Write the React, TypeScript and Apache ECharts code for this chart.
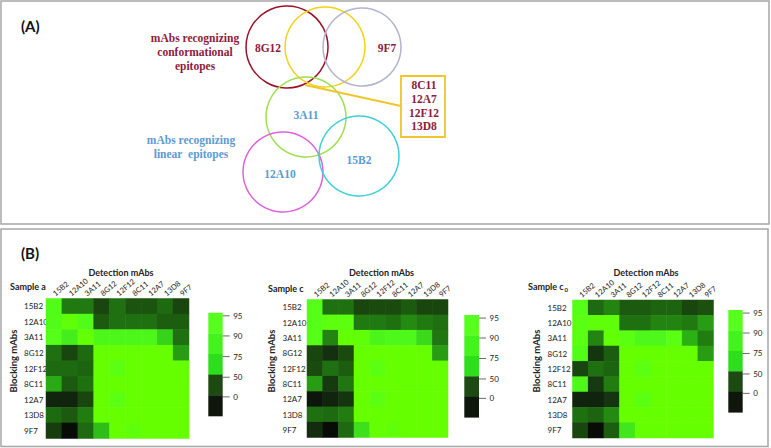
import React, { useEffect, useRef } from "react";
import * as echarts from "echarts";

// ---- data ----
const detectionMabs = ["15B2", "12A10", "3A11", "8G12", "12F12", "8C11", "12A7", "13D8", "9F7"];
const blockingMabs = ["15B2", "12A10", "3A11", "8G12", "12F12", "8C11", "12A7", "13D8", "9F7"];

// rows = blocking mAbs, columns = detection mAbs (estimated % signal)
const sampleA = [
  [88, 45, 45, 28, 42, 33, 33, 40, 28],
  [88, 97, 88, 35, 42, 42, 42, 36, 36],
  [90, 80, 98, 85, 85, 85, 85, 72, 42],
  [42, 28, 40, 100, 100, 100, 100, 100, 56],
  [40, 40, 38, 100, 93, 100, 100, 100, 100],
  [60, 35, 42, 100, 100, 100, 100, 100, 100],
  [15, 15, 28, 100, 93, 100, 100, 100, 100],
  [40, 35, 46, 100, 100, 100, 100, 100, 100],
  [25, 2, 40, 66, 100, 96, 100, 100, 100],
];
const sampleC = [
  [90, 42, 42, 28, 30, 30, 35, 28, 28],
  [90, 94, 94, 45, 45, 42, 50, 45, 42],
  [90, 48, 98, 97, 84, 86, 86, 74, 44],
  [28, 20, 30, 100, 100, 100, 100, 100, 56],
  [30, 42, 36, 100, 93, 100, 100, 100, 100],
  [56, 24, 44, 100, 100, 100, 100, 100, 100],
  [8, 15, 22, 100, 93, 100, 100, 100, 100],
  [42, 40, 46, 100, 100, 100, 100, 100, 100],
  [18, 2, 40, 76, 100, 97, 100, 100, 100],
];
const sampleC0 = [
  [90, 40, 48, 35, 35, 38, 38, 28, 32],
  [93, 96, 96, 42, 42, 48, 48, 45, 56],
  [93, 48, 98, 93, 86, 86, 93, 62, 46],
  [88, 22, 36, 100, 100, 100, 100, 100, 56],
  [28, 42, 38, 100, 93, 100, 100, 100, 100],
  [86, 24, 46, 100, 100, 100, 100, 100, 100],
  [14, 14, 22, 100, 93, 100, 100, 100, 100],
  [42, 38, 50, 100, 100, 100, 100, 100, 100],
  [28, 2, 36, 78, 100, 100, 100, 100, 100],
];

const colorbarTicks = ["95", "90", "75", "50", "0"];
const colorbarColors = ["#58ff1e", "#46f21e", "#30dc1e", "#1c4a12", "#0f170d"];
const heatColors = ["#050805", "#0e1a0b", "#143010", "#1a4a0e", "#1e6a10", "#248a12", "#2aaa14", "#33cc1a", "#44ee1c", "#55ff18", "#66ff00"];

const conformationalText = ["mAbs recognizing", "conformational", "epitopes"];
const linearText = ["mAbs recognizing", "linear  epitopes"];
const sharedMabs = ["8C11", "12A7", "12F12", "13D8"];

const MAROON = "#8b1c3c";
const BLUE = "#5b9bd5";
const SANS = "Lato, 'Liberation Sans', sans-serif";
const SERIF = "'Liberation Serif', 'DejaVu Serif', serif";

function toHeat(m: number[][]) {
  const out: number[][] = [];
  m.forEach((row, r) => row.forEach((v, c) => out.push([c, r, v])));
  return out;
}

export default function App() {
  const ref = useRef<HTMLDivElement>(null);
  useEffect(() => {
    if (!ref.current) return;
    const chart = echarts.init(ref.current, undefined, { renderer: "svg" });

    const panels = [
      { data: sampleA, left: 46, top: 298.5, width: 143, height: 140, margin: 22, title: "Sample a", tx: 10, ty: 286, bx: 13, dx: 121, cb: { x: 208.3, y: 312.7, w: 14.4, h: 103.3 } },
      { data: sampleC, left: 307, top: 299.5, width: 141, height: 138, margin: 24.5, title: "Sample c", tx: 268, ty: 288, bx: 271, dx: 381.5, cb: { x: 464.3, y: 315, w: 14.7, h: 102.3 } },
      { data: sampleC0, left: 572.5, top: 300, width: 141, height: 138, margin: 25, title: "Sample c", tx: 528, ty: 286, bx: 536, dx: 646, cb: { x: 728.3, y: 310, w: 14.4, h: 102.3 } },
    ];

    const graphic: any[] = [];
    // panel borders
    graphic.push({ type: "rect", shape: { x: 1, y: 1, width: 768, height: 223 }, style: { fill: "none", stroke: "#a6a6a6", lineWidth: 1.5 }, silent: true });
    graphic.push({ type: "rect", shape: { x: 1, y: 229, width: 767, height: 217.5 }, style: { fill: "none", stroke: "#a6a6a6", lineWidth: 1.5 }, silent: true });
    graphic.push({ type: "text", x: 21, y: 26, style: { text: "(A)", font: `bold 15px ${SANS}`, fill: "#111", verticalAlign: "middle" } });
    graphic.push({ type: "text", x: 21, y: 253, style: { text: "(B)", font: `bold 15px ${SANS}`, fill: "#111", verticalAlign: "middle" } });

    // Venn diagram
    const circ = (cx: number, cy: number, r: number, stroke: string) => ({ type: "circle", shape: { cx, cy, r }, style: { fill: "none", stroke, lineWidth: 1.5 }, silent: true });
    graphic.push(circ(287, 47, 41, "#9b1226"));
    graphic.push(circ(325, 47, 40, "#f2d21a"));
    graphic.push(circ(362, 47, 39, "#b4b4cc"));
    graphic.push(circ(306, 117, 40, "#9ce04c"));
    graphic.push(circ(283, 172, 40, "#dd62dd"));
    graphic.push(circ(359, 156, 40, "#3ed0d8"));
    graphic.push({ type: "line", shape: { x1: 305, y1: 85, x2: 401, y2: 106 }, style: { stroke: "#eec62a", lineWidth: 1.8 }, silent: true });
    graphic.push({ type: "rect", shape: { x: 401, y: 76, width: 44, height: 61 }, style: { fill: "#fff", stroke: "#eec62a", lineWidth: 1.8 }, silent: true });
    const vtext = (t: string, x: number, y: number, c: string) => ({ type: "text", x, y, style: { text: t, font: `bold 11.5px ${SERIF}`, fill: c, align: "center", verticalAlign: "middle" } });
    conformationalText.forEach((t, i) => graphic.push(vtext(t, 195, 38 + i * 14, MAROON)));
    linearText.forEach((t, i) => graphic.push(vtext(t, 191, 140 + i * 14, BLUE)));
    sharedMabs.forEach((t, i) => graphic.push(vtext(t, 424, 85 + i * 13.8, MAROON)));
    graphic.push(vtext("8G12", 268, 48, MAROON));
    graphic.push(vtext("9F7", 387, 48, MAROON));
    graphic.push(vtext("3A11", 306, 115, BLUE));
    graphic.push(vtext("12A10", 280, 174, BLUE));
    graphic.push(vtext("15B2", 359, 160, BLUE));

    // Panel B texts and colorbars
    const tickFrac = [0.03, 0.225, 0.425, 0.625, 0.815];
    panels.forEach((p, i) => {
      graphic.push({ type: "text", x: p.dx, y: 272.5, style: { text: "Detection mAbs", font: `bold 9px ${SANS}`, fill: "#222", align: "center", verticalAlign: "middle" } });
      graphic.push({ type: "text", x: p.tx, y: p.ty, style: { text: p.title, font: `bold 9px ${SANS}`, fill: "#222", verticalAlign: "middle" } });
      if (i === 2) {
        graphic.push({ type: "text", x: p.tx + 36.5, y: p.ty + 3, style: { text: "0", font: `bold 6px ${SANS}`, fill: "#222", verticalAlign: "middle" } });
      }
      graphic.push({ type: "text", x: p.bx, y: 361, rotation: Math.PI / 2, style: { text: "Blocking mAbs", font: `bold 9.5px ${SANS}`, fill: "#222", align: "center", verticalAlign: "middle" } });
      const segH = p.cb.h / colorbarColors.length;
      colorbarColors.forEach((c, k) => {
        graphic.push({ type: "rect", shape: { x: p.cb.x, y: p.cb.y + k * segH, width: p.cb.w, height: segH + 0.3 }, style: { fill: c }, silent: true });
      });
      colorbarTicks.forEach((t, k) => {
        const y = p.cb.y + tickFrac[k] * p.cb.h;
        const xr = p.cb.x + p.cb.w;
        graphic.push({ type: "line", shape: { x1: xr, y1: y, x2: xr + 7, y2: y }, style: { stroke: "#444", lineWidth: 0.8 }, silent: true });
        graphic.push({ type: "text", x: xr + 10.5, y, style: { text: t, font: `8px ${SANS}`, fill: "#222", verticalAlign: "middle" } });
      });
    });

    chart.setOption({
      animation: false,
      grid: panels.map((p) => ({ left: p.left, top: p.top, width: p.width, height: p.height, containLabel: false })),
      xAxis: panels.map((p, i) => ({
        type: "category", gridIndex: i, data: detectionMabs, position: "top",
        axisLine: { show: false }, axisTick: { show: false }, splitLine: { show: false }, splitArea: { show: false },
        axisLabel: { rotate: -40, align: "left", verticalAlign: "middle", hideOverlap: false, fontSize: 7.5, margin: 4, interval: 0, color: "#222", fontFamily: SANS },
      })),
      yAxis: panels.map((p, i) => ({
        type: "category", gridIndex: i, data: blockingMabs, inverse: true,
        axisLine: { show: false }, axisTick: { show: false }, splitLine: { show: false }, splitArea: { show: false },
        axisLabel: { align: "left", margin: p.margin, fontSize: 8, interval: 0, color: "#222", fontFamily: SANS },
      })),
      visualMap: {
        type: "continuous", show: false, min: 0, max: 100, dimension: 2, seriesIndex: [0, 1, 2],
        inRange: { color: heatColors },
      },
      series: panels.map((p, i) => ({
        type: "heatmap", xAxisIndex: i, yAxisIndex: i, data: toHeat(p.data),
        itemStyle: { borderWidth: 0 }, emphasis: { disabled: true }, progressive: 0,
      })),
      graphic,
    });
    return () => chart.dispose();
  }, []);
  return <div ref={ref} style={{ position: "absolute", left: 0, top: 0, width: 771, height: 448, background: "#fff" }} />;
}
